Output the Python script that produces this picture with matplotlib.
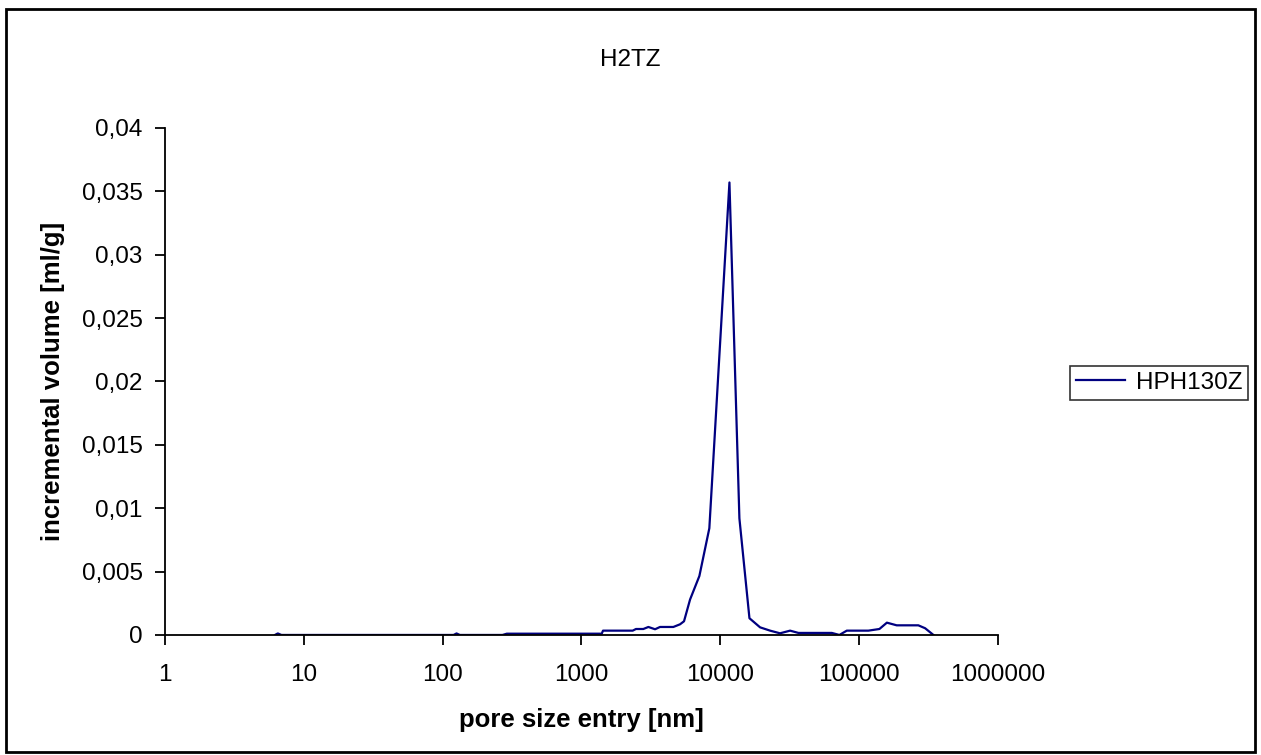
import matplotlib
matplotlib.use("Agg")
import matplotlib.pyplot as plt
from matplotlib.patches import Rectangle
from matplotlib.ticker import FixedLocator, FuncFormatter

plt.rcParams['font.family'] = ['Liberation Sans', 'DejaVu Sans']

# pore size entry [nm] and incremental volume [ml/g]
pore_size = [6.2, 6.5, 6.9, 7.5, 10, 20, 50, 100, 120, 126, 133, 150, 200, 270, 290,
             500, 1000, 1400, 1430, 2340, 2470, 2790, 3035, 3390, 3680, 4590, 5130,
             5480, 6060, 7070, 8340, 11640, 13730, 16220, 19350, 22850, 26940,
             31830, 36530, 63600, 72100, 81500, 116600, 140000, 158500, 186500,
             267000, 298800, 343000]
inc_volume = [0.0, 0.00012, 0.0, 0.0, 0.0, 0.0, 0.0, 0.0, 0.0, 0.00012, 0.0, 0.0,
              0.0, 0.0, 0.0001, 0.0001, 0.0001, 0.0001, 0.00034, 0.00034, 0.00047,
              0.00047, 0.00063, 0.00045, 0.00063, 0.00063, 0.00084, 0.00108, 0.0028,
              0.00465, 0.00842, 0.0357, 0.0092, 0.00132, 0.0006, 0.00034, 0.00013,
              0.00034, 0.00016, 0.00016, 0.0, 0.00034, 0.00034, 0.00047, 0.00097,
              0.00076, 0.00076, 0.00053, 0.0]

x_ticks = [1, 10, 100, 1000, 10000, 100000, 1000000]
y_ticks = [0, 0.005, 0.01, 0.015, 0.02, 0.025, 0.03, 0.035, 0.04]
y_tick_labels = ["0", "0,005", "0,01", "0,015", "0,02", "0,025", "0,03", "0,035", "0,04"]


def main():
    fig = plt.figure(figsize=(12.61, 7.55), dpi=100)
    ax = fig.add_axes([0.1308, 0.159, 0.6606, 0.6715])

    ax.plot(pore_size, inc_volume, color="#000080", lw=1.6, label="HPH130Z")

    ax.set_xscale("log")
    ax.set_xlim(1, 1000000)
    ax.set_ylim(0, 0.04)
    ax.xaxis.set_major_locator(FixedLocator(x_ticks))
    ax.xaxis.set_minor_locator(FixedLocator([]))
    ax.xaxis.set_major_formatter(FuncFormatter(lambda v, p: "%d" % round(v)))
    ax.set_yticks(y_ticks)
    ax.set_yticklabels(y_tick_labels)

    ax.spines["top"].set_visible(False)
    ax.spines["right"].set_visible(False)
    for s in ("left", "bottom"):
        ax.spines[s].set_linewidth(1.3)
    ax.tick_params(direction="out", length=7, width=1.3, labelsize=17.5)
    ax.tick_params(axis="x", pad=14)
    ax.tick_params(axis="y", pad=9)

    ax.set_xlabel("pore size entry [nm]", fontsize=18.5, fontweight="bold", labelpad=16)
    ax.set_ylabel("incremental volume [ml/g]", fontsize=18.5, fontweight="bold", labelpad=12)
    fig.text(0.5, 0.92, "H2TZ", ha="center", va="center", fontsize=17.5)

    leg = ax.legend(loc="center left", bbox_to_anchor=(1.0864, 0.497), frameon=True,
                    fancybox=False, fontsize=17.5, borderpad=0.25, handlelength=2.0,
                    handletextpad=0.45, borderaxespad=0)
    leg.get_frame().set_edgecolor("black")
    leg.get_frame().set_linewidth(1.2)

    fig.patches.append(Rectangle((0.005, 0.004), 0.99, 0.984, transform=fig.transFigure,
                                 fill=False, edgecolor="black", linewidth=2))

    fig.savefig("out.png", dpi=100)


if __name__ == "__main__":
    main()
